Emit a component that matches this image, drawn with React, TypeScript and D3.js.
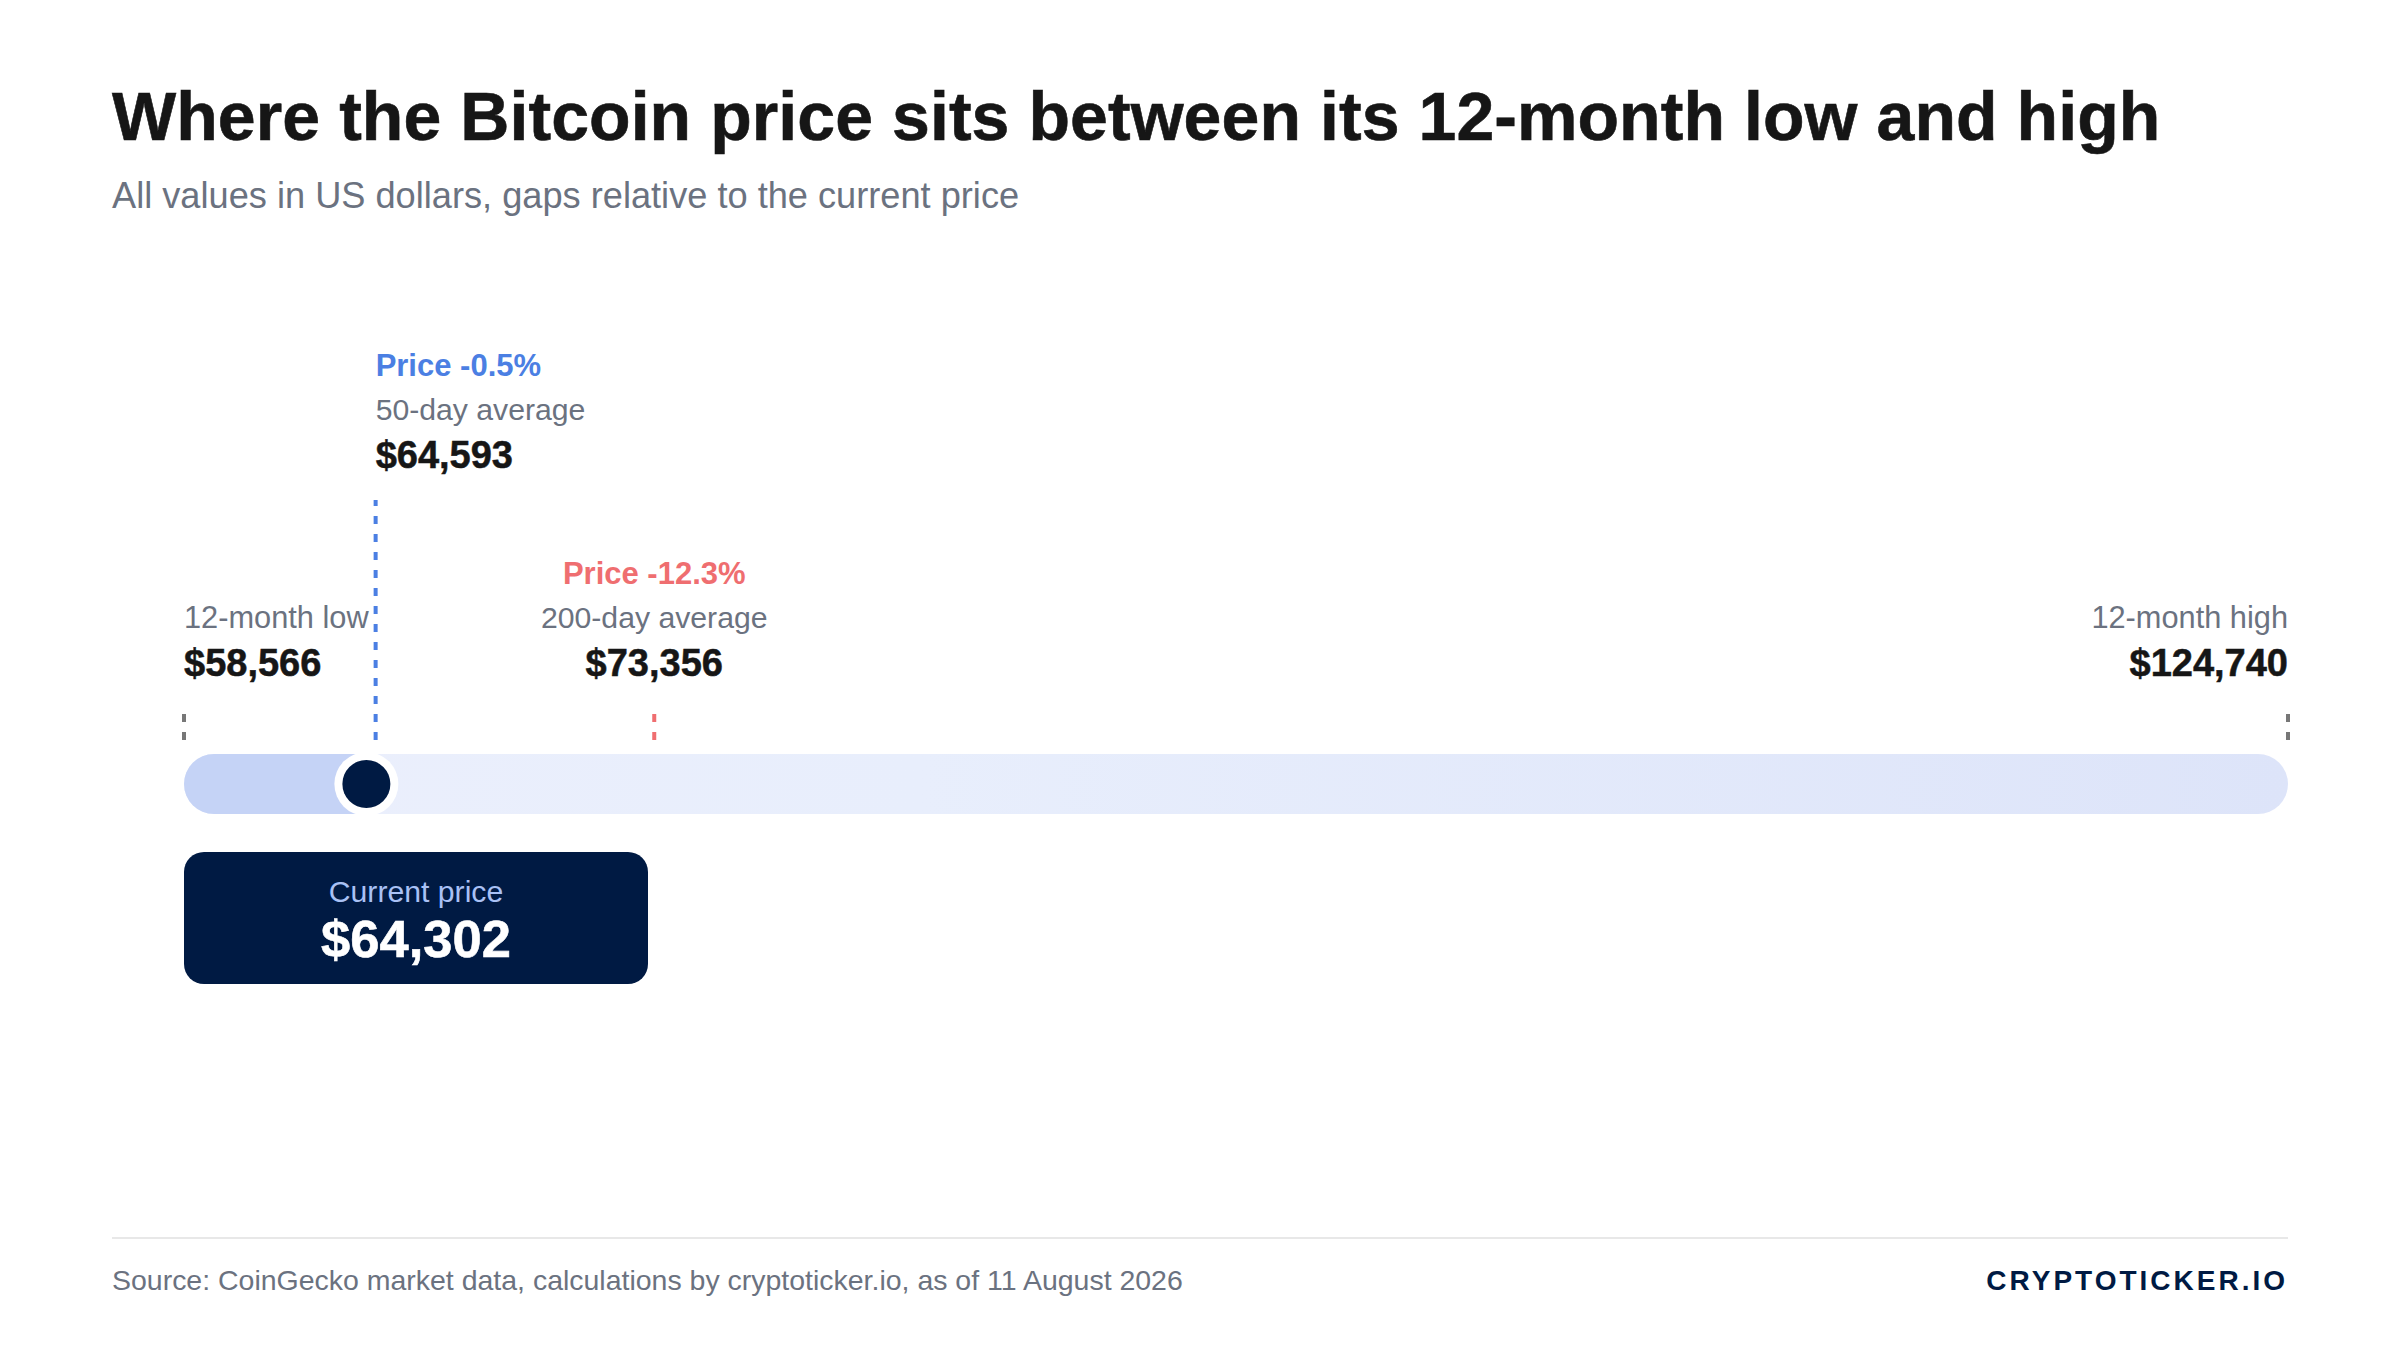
import { useEffect, useRef } from 'react';
import * as d3 from 'd3';

const W = 2400;
const H = 1350;

const title = 'Where the Bitcoin price sits between its 12-month low and high';
const subtitle = 'All values in US dollars, gaps relative to the current price';
const source = 'Source: CoinGecko market data, calculations by cryptoticker.io, as of 11 August 2026';
const brand = 'CRYPTOTICKER.IO';

const low = 58566;
const high = 124740;
const current = 64302;
const avg50 = 64593;
const avg200 = 73356;
const gap50 = '-0.5%';
const gap200 = '-12.3%';

const FONT = '"Liberation Sans", Arial, sans-serif';
const INK = '#161616';
const GREY = '#6b7280';
const NAVY = '#001a43';
const BLUE = '#4b7fe3';
const RED = '#ef6e70';

const usd = (v: number) => `$${d3.format(',')(v)}`;

export default function App() {
  const ref = useRef<SVGSVGElement>(null);

  useEffect(() => {
    if (!ref.current) return;
    const svg = d3.select(ref.current);
    svg.selectAll('*').remove();

    const x = d3.scaleLinear().domain([low, high]).range([184, 2288]);
    const barY = 754;
    const barH = 60;

    const label = (
      txt: string,
      tx: number,
      ty: number,
      size: number,
      fill: string,
      weight = 400,
      anchor = 'start',
      spacing = 0,
    ) =>
      svg.append('text')
        .attr('x', tx)
        .attr('y', ty)
        .attr('text-anchor', anchor)
        .style('font-family', FONT)
        .style('font-size', `${size}px`)
        .style('font-weight', weight)
        .style('letter-spacing', `${spacing}px`)
        .style('fill', fill)
        .text(txt);

    // Bold figures sit a touch heavier in the reference
    const heavy = (sel: d3.Selection<SVGTextElement, unknown, null, undefined>, w: number) =>
      sel.style('stroke', sel.style('fill')).style('stroke-width', `${w}px`);

    // Header
    heavy(label(title, 112, 140, 68, INK, 700, 'start', 0.07), 0.6);
    label(subtitle, 112, 208, 36.2, GREY);

    // Track gradient
    const defs = svg.append('defs');
    const gradient = defs.append('linearGradient')
      .attr('id', 'trackGradient')
      .attr('x1', '0%')
      .attr('x2', '100%');
    gradient.append('stop').attr('offset', '0%').attr('stop-color', '#ebeffc');
    gradient.append('stop').attr('offset', '35%').attr('stop-color', '#e8eefc');
    gradient.append('stop').attr('offset', '100%').attr('stop-color', '#dde4f9');

    defs.append('clipPath').attr('id', 'trackClip')
      .append('rect')
      .attr('x', x(low))
      .attr('y', barY)
      .attr('width', x(high) - x(low))
      .attr('height', barH)
      .attr('rx', barH / 2);

    const track = svg.append('g').attr('clip-path', 'url(#trackClip)');
    track.append('rect')
      .attr('x', x(low))
      .attr('y', barY)
      .attr('width', x(high) - x(low))
      .attr('height', barH)
      .style('fill', 'url(#trackGradient)');
    track.append('rect')
      .attr('x', x(low))
      .attr('y', barY)
      .attr('width', x(current) - x(low))
      .attr('height', barH)
      .style('fill', '#c5d3f6');

    // Dashed markers, dashes counted up from the bottom
    const marker = (v: number, top: number, color: string) =>
      svg.append('line')
        .attr('x1', x(v))
        .attr('x2', x(v))
        .attr('y1', 740)
        .attr('y2', top)
        .attr('stroke', color)
        .attr('stroke-width', 4)
        .attr('stroke-dasharray', '8 10');

    marker(low, 714, '#777777');
    marker(high, 714, '#777777');
    marker(avg50, 500, BLUE);
    marker(avg200, 714, RED);

    // Current price dot
    svg.append('circle')
      .attr('cx', x(current))
      .attr('cy', barY + barH / 2)
      .attr('r', 32)
      .attr('fill', '#fff');
    svg.append('circle')
      .attr('cx', x(current))
      .attr('cy', barY + barH / 2)
      .attr('r', 24)
      .attr('fill', NAVY);

    // Labels
    label('12-month low', x(low), 628, 30.75, GREY);
    heavy(label(usd(low), x(low), 676, 38, INK, 700), 0.5);

    label(`Price ${gap50}`, x(avg50), 376, 31, BLUE, 700);
    label('50-day average', x(avg50), 420, 30.2, GREY);
    heavy(label(usd(avg50), x(avg50), 468, 38, INK, 700), 0.5);

    label(`Price ${gap200}`, x(avg200), 584, 31, RED, 700, 'middle');
    label('200-day average', x(avg200), 628, 30.2, GREY, 400, 'middle');
    heavy(label(usd(avg200), x(avg200), 676, 38, INK, 700, 'middle'), 0.5);

    label('12-month high', x(high), 628, 30.75, GREY, 400, 'end');
    heavy(label(usd(high), x(high), 676, 38, INK, 700, 'end'), 0.5);

    // Current price box
    svg.append('rect')
      .attr('x', 184)
      .attr('y', 852)
      .attr('width', 464)
      .attr('height', 132)
      .attr('rx', 20)
      .attr('fill', NAVY);
    label('Current price', 416, 902, 30.2, '#a9c1f5', 400, 'middle');
    heavy(label(usd(current), 416, 957, 52.5, '#ffffff', 700, 'middle'), 0.6);

    // Footer
    svg.append('line')
      .attr('x1', 112)
      .attr('x2', 2288)
      .attr('y1', 1238)
      .attr('y2', 1238)
      .attr('stroke', '#e8e8e8')
      .attr('stroke-width', 2);
    label(source, 112, 1290, 28.47, GREY);
    label(brand, 2288, 1290, 28, NAVY, 700, 'end', 3);
  }, []);

  return (
    <svg
      ref={ref}
      width={W}
      height={H}
      viewBox={`0 0 ${W} ${H}`}
      style={{ position: 'absolute', left: 0, top: 0, background: '#fff' }}
    />
  );
}
